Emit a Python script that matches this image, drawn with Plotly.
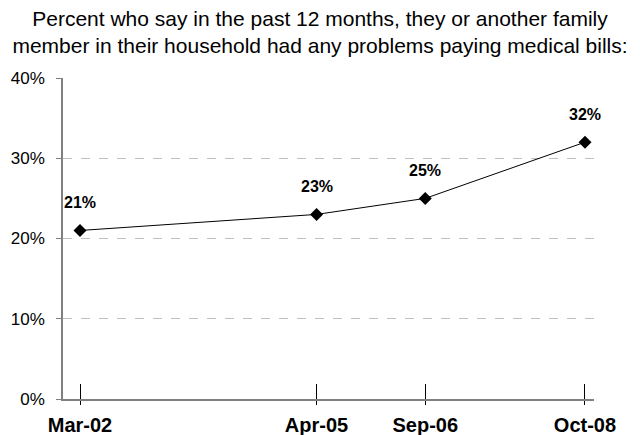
import plotly.graph_objects as go

dates = ["2002-03-01", "2005-04-01", "2006-09-01", "2008-10-01"]
tick_labels = ["Mar-02", "Apr-05", "Sep-06", "Oct-08"]
values = [21, 23, 25, 32]
value_labels = ["21%", "23%", "25%", "32%"]
y_ticks = [0, 10, 20, 30, 40]
y_tick_labels = ["0%", "10%", "20%", "30%", "40%"]

title_text = ("Percent who say in the past 12 months, they or another family<br>"
              "member in their household had any problems paying medical bills:")

FONT = "Liberation Sans, Arial, sans-serif"

fig = go.Figure()
fig.add_trace(go.Scatter(
    x=dates, y=values, mode="lines+markers",
    line=dict(color="black", width=1),
    marker=dict(symbol="diamond", size=10, color="black"),
    hoverinfo="skip", showlegend=False,
))

for d, v, t in zip(dates, values, value_labels):
    fig.add_annotation(x=d, y=v, text="<b>" + t + "</b>", showarrow=False,
                       yshift=28, font=dict(family=FONT, size=16, color="black"))

# page body adds an 8px offset, so the figure is 8px smaller than the window
fig.update_layout(
    width=632, height=427,
    margin=dict(l=55, r=46, t=70, b=36, autoexpand=False),
    paper_bgcolor="white", plot_bgcolor="white",
    font=dict(family=FONT, color="black"),
    title=dict(text=title_text, x=312 / 632, xanchor="center", xref="container",
               yref="container", y=0.958, yanchor="top",
               font=dict(family=FONT, size=21, color="black")),
    xaxis=dict(
        type="date", automargin=False,
        range=["2001-12-10", "2008-11-13"],
        tickmode="array", tickvals=dates,
        ticktext=["<b>" + t + "</b>" for t in tick_labels],
        ticks="outside", ticklen=4, tickcolor="black", tickwidth=1,
        ticklabelstandoff=3,
        minor=dict(tickmode="array", tickvals=dates, ticks="inside",
                   ticklen=15, tickcolor="black", tickwidth=1, showgrid=False),
        showline=True, linecolor="#808080", linewidth=1.5,
        showgrid=False, zeroline=False,
        tickfont=dict(family=FONT, size=20, color="black"),
    ),
    yaxis=dict(
        range=[0, 40], automargin=False,
        tickmode="array", tickvals=y_ticks, ticktext=y_tick_labels,
        ticks="outside", ticklen=5, tickcolor="#808080",
        ticklabelstandoff=8,
        showline=True, linecolor="#808080", linewidth=1.5,
        showgrid=True, gridcolor="#BFBFBF", griddash="dash", gridwidth=1,
        zeroline=False,
        tickfont=dict(family=FONT, size=17, color="black"),
    ),
)

fig.write_html("out.html")
